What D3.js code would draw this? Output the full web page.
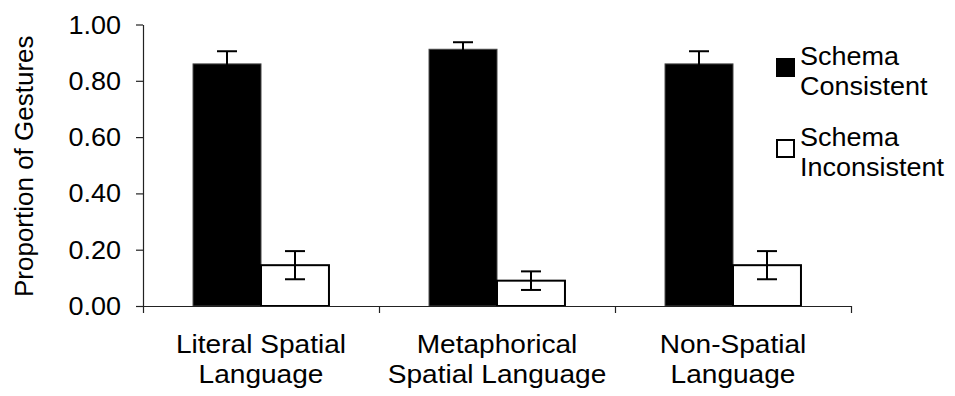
<!DOCTYPE html>
<html>
<head>
<meta charset="utf-8">
<script src="https://cdn.jsdelivr.net/npm/d3@7/dist/d3.min.js"></script>
<style>
  html, body { margin: 0; padding: 0; background: #fff; }
  svg text { font-family: "Liberation Sans", Arial, sans-serif; fill: #000; }
</style>
</head>
<body>
<svg id="chart" width="955" height="396"></svg>
<script>
// Gesture proportions by language type
const categories = [
  ["Literal Spatial", "Language"],
  ["Metaphorical", "Spatial Language"],
  ["Non-Spatial", "Language"]
];
const seriesNames = ["Schema Consistent", "Schema Inconsistent"];
const legendLines = [["Schema", "Consistent"], ["Schema", "Inconsistent"]];
const consistent = [0.86, 0.912, 0.86];
const consistentErr = [0.045, 0.025, 0.045];
const inconsistent = [0.145, 0.09, 0.145];
const inconsistentErr = [0.05, 0.033, 0.05];
const yTicks = [0, 0.2, 0.4, 0.6, 0.8, 1.0];

const svg = d3.select("#chart");
const plot = { left: 143, right: 851, top: 24.5, bottom: 306 };
const sx = 1.08;        // slightly wide lettering for horizontal text

const y = d3.scaleLinear().domain([0, 1]).range([plot.bottom, plot.top]);
const catKeys = categories.map(c => c.join(" "));
const x0 = d3.scaleBand().domain(catKeys).range([plot.left, plot.right])
  .paddingInner(0.424).paddingOuter(0.212);
const x1 = d3.scaleBand().domain(seriesNames).range([0, x0.bandwidth()]);

const rows = catKeys.map((k, i) => ({
  key: k,
  values: [
    { series: seriesNames[0], v: consistent[i], e: consistentErr[i] },
    { series: seriesNames[1], v: inconsistent[i], e: inconsistentErr[i] }
  ]
}));
const fill = { [seriesNames[0]]: "#000", [seriesNames[1]]: "#fff" };

// bars
const groups = svg.append("g").selectAll("g").data(rows).join("g")
  .attr("transform", d => `translate(${x0(d.key)},0)`);
groups.selectAll("rect").data(d => d.values).join("rect")
  .attr("x", d => x1(d.series))
  .attr("y", d => y(d.v))
  .attr("width", x1.bandwidth())
  .attr("height", d => y(0) - y(d.v))
  .attr("fill", d => fill[d.series])
  .attr("stroke", d => d.series === seriesNames[1] ? "#000" : "#444")
  .attr("stroke-width", d => d.series === seriesNames[1] ? 2 : 1);

// error bars
const capHalf = 10;
const err = groups.selectAll("g.err").data(d => d.values).join("g").attr("class", "err")
  .attr("transform", d => `translate(${x1(d.series) + x1.bandwidth() / 2},0)`)
  .attr("stroke", "#000").attr("stroke-width", 2);
err.append("line").attr("x1", 0).attr("x2", 0)
  .attr("y1", d => y(d.v + d.e)).attr("y2", d => y(d.v - d.e));
err.append("line").attr("x1", -capHalf).attr("x2", capHalf)
  .attr("y1", d => y(d.v + d.e)).attr("y2", d => y(d.v + d.e));
err.append("line").attr("x1", -capHalf).attr("x2", capHalf)
  .attr("y1", d => y(d.v - d.e)).attr("y2", d => y(d.v - d.e));

// y axis
const yAxis = svg.append("g").attr("transform", `translate(${plot.left},0)`)
  .call(d3.axisLeft(y).tickValues(yTicks).tickFormat(d3.format(".2f"))
    .tickSize(7).tickSizeOuter(0).tickPadding(15));
yAxis.select(".domain").attr("stroke", "#222").attr("stroke-width", 1.2);
yAxis.selectAll(".tick line").attr("stroke", "#222").attr("stroke-width", 1.2);
yAxis.selectAll(".tick text")
  .attr("font-size", 25).attr("font-family", null)
  .attr("x", -22 / sx).attr("dy", "0.34em")
  .attr("transform", `scale(${sx},1)`);

// x axis with ticks at band boundaries
const xb = d3.scaleLinear().domain([0, 3]).range([plot.left, plot.right]);
const xAxis = svg.append("g").attr("transform", `translate(0,${plot.bottom})`)
  .call(d3.axisBottom(xb).tickValues([0, 1, 2, 3]).tickFormat("").tickSize(7).tickSizeOuter(0));
xAxis.select(".domain").attr("stroke", "#222").attr("stroke-width", 1.2);
xAxis.selectAll(".tick line").attr("stroke", "#222").attr("stroke-width", 1.2);

// category labels
const catLabels = svg.append("g").selectAll("text").data(categories).join("text")
  .attr("text-anchor", "middle")
  .attr("font-size", 26)
  .attr("transform", (d, i) => `translate(${x0(catKeys[i]) + x0.bandwidth() / 2},353) scale(${sx},1)`);
catLabels.selectAll("tspan").data(d => d).join("tspan")
  .attr("x", 0).attr("y", (d, i) => i * 30).text(d => d);

// y title
svg.append("text")
  .attr("transform", `translate(33,${(plot.top + plot.bottom) / 2 + 1}) rotate(-90)`)
  .attr("text-anchor", "middle").attr("font-size", 26)
  .text("Proportion of Gestures");

// legend
const legend = svg.append("g").selectAll("g").data(seriesNames).join("g")
  .attr("transform", (d, i) => `translate(776,${58 + i * 81})`);
legend.append("rect")
  .attr("x", d => d === seriesNames[1] ? 1 : 0)
  .attr("y", d => d === seriesNames[1] ? 1 : 0)
  .attr("width", d => d === seriesNames[1] ? 17 : 19)
  .attr("height", d => d === seriesNames[1] ? 17 : 19)
  .attr("fill", d => fill[d])
  .attr("stroke", "#000")
  .attr("stroke-width", d => d === seriesNames[1] ? 2 : 0);
legend.append("text").attr("font-size", 25)
  .attr("transform", `translate(24,7) scale(${sx},1)`)
  .selectAll("tspan").data((d, i) => legendLines[i]).join("tspan")
  .attr("x", 0).attr("y", (d, i) => i * 30).text(d => d);
</script>
</body>
</html>
